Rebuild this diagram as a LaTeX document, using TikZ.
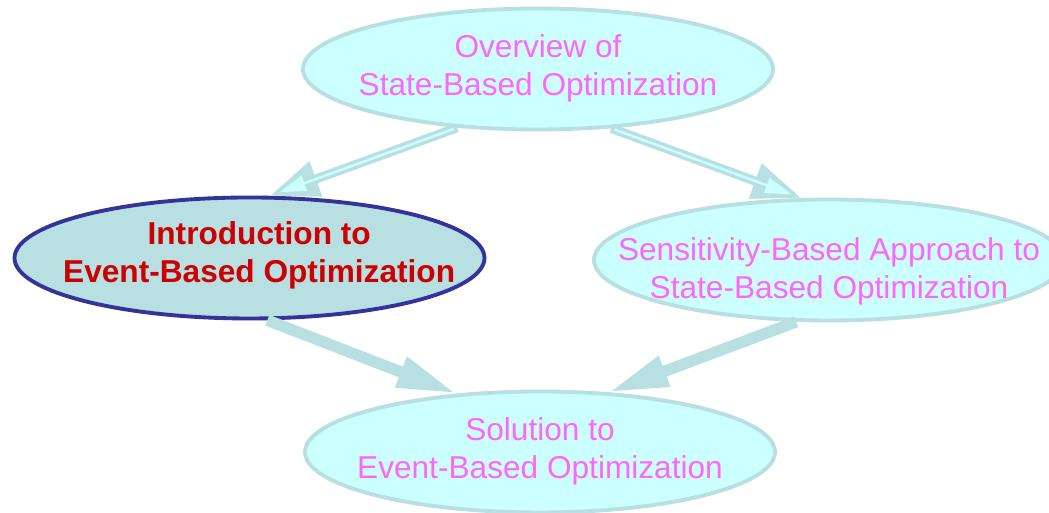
\documentclass[tikz,border=0pt]{standalone}
\usepackage{fontspec}
\setmainfont{Liberation Sans}
\usepackage{xcolor}
\usetikzlibrary{shapes.geometric}
\usetikzlibrary{arrows.meta}

\definecolor{bubblefill}{HTML}{CCFFFF}
\definecolor{bubbleedge}{HTML}{B8DFE1}
\definecolor{darkedge}{HTML}{333399}
\definecolor{pinktext}{HTML}{FF66FF}
\definecolor{redtext}{HTML}{CC0000}

% two centred lines that do not widen the ellipse
\newcommand{\twolines}[2]{\makebox[0pt]{\begin{tabular}{@{}c@{}}#1\\#2\end{tabular}}}

\begin{document}
\begin{tikzpicture}[
    font=\fontsize{18}{21.5}\selectfont,
    % topic bubbles
    bubble/.style={ellipse, draw=bubbleedge, line width=2.2pt, fill=bubblefill,
                   text=pinktext, minimum width=9.4cm, minimum height=2.42cm, inner sep=0pt},
    current/.style={bubble, draw=darkedge, fill=bubbleedge, text=redtext, font=\fontsize{18}{21.5}\selectfont\bfseries},
    % connectors
    hollowarrow/.style={draw=bubbleedge, line width=5.2pt, -{Triangle[length=28pt,width=20pt]},
                        postaction={draw=bubblefill, line width=1.4pt, -{Triangle[length=15pt,width=9pt]},
                                    shorten >=6pt, shorten <=2pt}},
    solidarrow/.style={draw=bubbleedge, line width=6.5pt, -{Triangle[length=34pt,width=17pt]}},
]
\useasboundingbox (0,0) rectangle (20.98,10.26);

% =========================================================
% topics
% =========================================================
\node[bubble]  (overview) at (10.76, 8.88) {\twolines{Overview of}{State-Based Optimization}};
\node[current] (intro)    at (4.99, 5.10)  {\hspace{11pt}\raisebox{-3pt}[0pt][0pt]{\twolines{Introduction to}{Event-Based Optimization}}};
\node[bubble]  (sens)     at (16.58, 5.06) {\raisebox{-11pt}[0pt][0pt]{\twolines{Sensitivity-Based Approach to}{State-Based Optimization}}};
\node[bubble]  (solution) at (10.80, 1.22) {\twolines{Solution to}{Event-Based Optimization}};

% =========================================================
% connectors
% =========================================================
\draw[hollowarrow] (overview.216) -- (intro.72);
\draw[hollowarrow] (overview.321) -- (sens.114);

\draw[solidarrow] (intro.286) -- (solution.145);
\draw[solidarrow] (sens.242) -- (solution.41);

\end{tikzpicture}
\end{document}
